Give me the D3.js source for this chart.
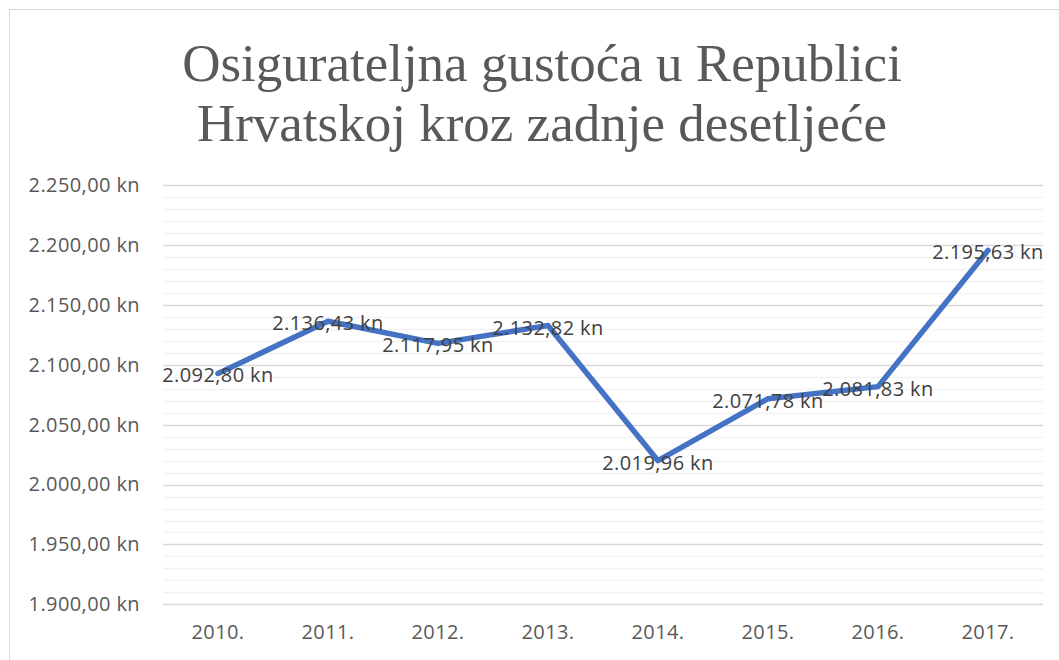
<!DOCTYPE html>
<html>
<head>
<meta charset="utf-8">
<script src="https://cdn.jsdelivr.net/npm/d3@7"></script>
<style>
  html, body { margin: 0; padding: 0; background: #fff; }
  svg { display: block; }
</style>
</head>
<body>
<svg id="chart" width="1059" height="660"></svg>
<script>
const titleLines = ["Osigurateljna gustoća u Republici", "Hrvatskoj kroz zadnje desetljeće"];
const categories = ["2010.", "2011.", "2012.", "2013.", "2014.", "2015.", "2016.", "2017."];
const values = [2092.80, 2136.43, 2117.95, 2132.82, 2019.96, 2071.78, 2081.83, 2195.63];
const yMajorTicks = [1900, 1950, 2000, 2050, 2100, 2150, 2200, 2250];
const yMinorTicks = d3.range(1900, 2251, 10);

const fmt = v => {
  const parts = v.toFixed(2).split(".");
  const intPart = parts[0].replace(/\B(?=(\d{3})+(?!\d))/g, ".");
  return intPart + "," + parts[1] + " kn";
};

const svg = d3.select("#chart");
const W = 1059, H = 660;
const plot = { left: 163, right: 1043, top: 185.3, bottom: 604.3 };
const labelFont = "'Open Sans', sans-serif";
const labelSize = "20px";
const labelSpacing = "0.4px";
const textColor = "#595959";

svg.append("rect").attr("x", 0).attr("y", 0).attr("width", W).attr("height", H).attr("fill", "#fff");
svg.append("rect").attr("x", 9.5).attr("y", 9.5).attr("width", 1100).attr("height", 700)
  .attr("fill", "none").attr("stroke", "#d9d9d9").attr("stroke-width", 1);

const x = d3.scaleBand().domain(categories).range([plot.left, plot.right]).padding(0);
const y = d3.scaleLinear().domain([1900, 2250]).range([plot.bottom, plot.top]);

// minor gridlines
svg.append("g")
  .selectAll("line").data(yMinorTicks.filter(t => t % 50 !== 0)).join("line")
  .attr("x1", plot.left).attr("x2", plot.right)
  .attr("y1", d => Math.round(y(d)) + 0.5).attr("y2", d => Math.round(y(d)) + 0.5)
  .attr("stroke", "#f2f2f2").attr("stroke-width", 1.3);

// major gridlines
svg.append("g")
  .selectAll("line").data(yMajorTicks).join("line")
  .attr("x1", plot.left).attr("x2", plot.right)
  .attr("y1", d => Math.round(y(d)) + 0.5).attr("y2", d => Math.round(y(d)) + 0.5)
  .attr("stroke", "#d9d9d9").attr("stroke-width", 1.3);

// y axis labels
const yAxis = d3.axisLeft(y).tickValues(yMajorTicks).tickFormat(d => fmt(d)).tickSize(0).tickPadding(23);
const yg = svg.append("g").attr("transform", `translate(${plot.left},0)`).call(yAxis);
yg.select(".domain").remove();
yg.selectAll("text").attr("fill", textColor).style("font-family", labelFont)
  .style("font-size", labelSize).style("letter-spacing", labelSpacing);

// x axis labels
const xAxis = d3.axisBottom(x).tickSize(0).tickPadding(21);
const xg = svg.append("g").attr("transform", `translate(0,${plot.bottom})`).call(xAxis);
xg.select(".domain").remove();
xg.selectAll("text").attr("fill", textColor).style("font-family", labelFont)
  .style("font-size", labelSize).style("letter-spacing", labelSpacing);

// line
const line = d3.line()
  .x((d, i) => x(categories[i]) + x.bandwidth() / 2)
  .y(d => y(d));
svg.append("path").datum(values)
  .attr("d", line)
  .attr("fill", "none").attr("stroke", "#4472c4").attr("stroke-width", 5.5)
  .attr("stroke-linejoin", "round").attr("stroke-linecap", "round");

// data labels
svg.append("g").selectAll("text").data(values).join("text")
  .attr("x", (d, i) => x(categories[i]) + x.bandwidth() / 2)
  .attr("y", d => y(d))
  .attr("dy", "0.45em")
  .attr("text-anchor", "middle")
  .attr("fill", "#404040")
  .style("font-family", labelFont).style("font-size", labelSize).style("letter-spacing", labelSpacing)
  .text(d => fmt(d));

// title
svg.append("g").selectAll("text").data(titleLines).join("text")
  .attr("x", 542)
  .attr("y", (d, i) => 81 + i * 60)
  .attr("text-anchor", "middle")
  .attr("fill", textColor)
  .style("font-family", "'Liberation Serif', 'Times New Roman', serif")
  .style("font-size", "53px")
  .text(d => d);
</script>
</body>
</html>
